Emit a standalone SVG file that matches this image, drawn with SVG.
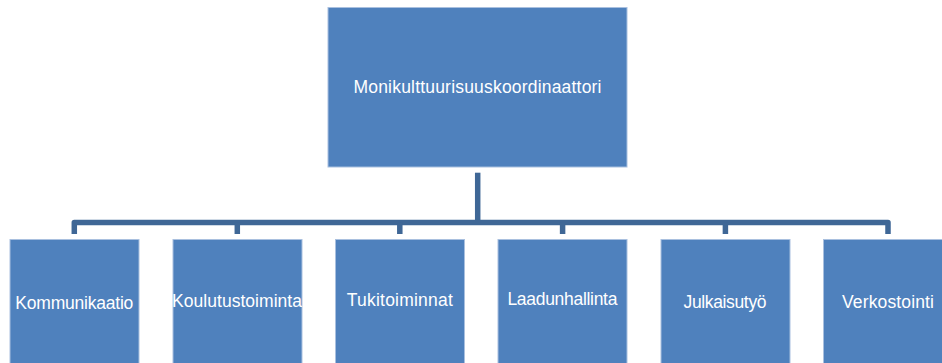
<svg xmlns="http://www.w3.org/2000/svg" width="942" height="363" viewBox="0 0 942 363">
<style>
.box{fill:#4F81BD;stroke:#A9C0DF;stroke-width:1}
.lbl{font-family:"Liberation Sans",Arial,sans-serif;font-size:17.5px;fill:#FFFFFF;text-anchor:middle}
.con{fill:none;stroke:#3F6796;stroke-width:5.5;stroke-linejoin:round}
</style>
<rect width="942" height="363" fill="#FFFFFF"/>
<g id="connectors">
<path class="con" d="M477.7,172.7 V222.5"/>
<path class="con" d="M74.3,234 V222.5 H888 V234"/>
<path class="con" d="M237.3,222.5 V234"/>
<path class="con" d="M399.8,222.5 V234"/>
<path class="con" d="M562.6,222.5 V234"/>
<path class="con" d="M725.4,222.5 V234"/>
</g>
<g id="root">
<rect class="box" x="328" y="7.5" width="299" height="159.5"/>
<text class="lbl" x="477.5" y="92.5" font-size="18" textLength="248">Monikulttuurisuuskoordinaattori</text>
</g>
<g id="kommunikaatio">
<rect class="box" x="10" y="239.5" width="129" height="130"/>
<text class="lbl" x="74.3" y="309" textLength="118">Kommunikaatio</text>
</g>
<g id="koulutustoiminta">
<rect class="box" x="173" y="239.5" width="129" height="130"/>
<text class="lbl" x="237" y="306.5" textLength="130">Koulutustoiminta</text>
</g>
<g id="tukitoiminnat">
<rect class="box" x="335.5" y="239.5" width="129" height="130"/>
<text class="lbl" x="399.8" y="305.7" textLength="106">Tukitoiminnat</text>
</g>
<g id="laadunhallinta">
<rect class="box" x="498" y="239.5" width="129" height="130"/>
<text class="lbl" x="562.4" y="305.3" textLength="110">Laadunhallinta</text>
</g>
<g id="julkaisutyo">
<rect class="box" x="661" y="239.5" width="129" height="130"/>
<text class="lbl" x="725" y="307.7" textLength="83">Julkaisutyö</text>
</g>
<g id="verkostointi">
<rect class="box" x="823.5" y="239.5" width="129" height="130"/>
<text class="lbl" x="888" y="307.7" textLength="92">Verkostointi</text>
</g>
</svg>
